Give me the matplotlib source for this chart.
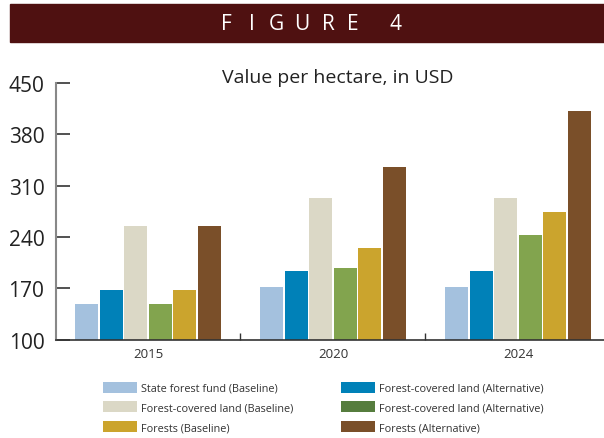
import numpy as np
import matplotlib.pyplot as plt
from matplotlib.patches import Rectangle, Patch

# ---- data ----
years = ['2015', '2020', '2024']
series_labels = [
    'State forest fund (Baseline)',
    'Forest-covered land (Alternative)',
    'Forest-covered land (Baseline)',
    'Forest-covered land (Alternative)',
    'Forests (Baseline)',
    'Forests (Alternative)',
]
state_fund_base = [148.5, 172, 172]
covered_alt_blue = [168, 194, 194]
covered_base = [255, 293.5, 293.5]
covered_alt_green = [148.5, 198, 243]
forests_base = [168, 225, 274]
forests_alt = [255, 335, 411.5]
series_values = [state_fund_base, covered_alt_blue, covered_base,
                 covered_alt_green, forests_base, forests_alt]

bar_colors = ['#a4c1de', '#0081b8', '#dbd8c6', '#82a44e', '#cba42d', '#7a4f29']
legend_colors = ['#a4c1de', '#0081b8', '#dbd8c6', '#567d3e', '#cba42d', '#7a4f29']
yticks = [100, 170, 240, 310, 380, 450]

plt.rcParams['font.family'] = ['Open Sans', 'DejaVu Sans']

fig = plt.figure(figsize=(6.04, 4.39), dpi=100)

# header banner, letters spread out one by one
fig.patches.append(Rectangle((10 / 604, 1 - 43 / 439), 594 / 604, 38 / 439,
                             transform=fig.transFigure, color='#4f1111', zorder=0))
banner_letters = ['F', 'I', 'G', 'U', 'R', 'E', '4']
banner_x = [226, 252, 276, 302, 328, 353, 395]
for ch, bx in zip(banner_letters, banner_x):
    fig.text(bx / 604, 1 - 25 / 439, ch, color='white', fontsize=15,
             ha='center', va='center')

ax = fig.add_axes([55.5 / 604, 1 - 340.7 / 439, 548.5 / 604, 256.7 / 439])

x = np.arange(len(years))
pitch = 0.133
width = 0.124
for i, vals in enumerate(series_values):
    ax.bar(x + (i - 2.5) * pitch, np.array(vals) - 100, width, bottom=100,
           color=bar_colors[i], zorder=2)

ax.set_xlim(-0.5, 2.465)
ax.set_ylim(100, 450)
ax.set_yticks(yticks)
ax.tick_params(axis='y', direction='in', length=10, width=1.2, color='#333333',
               labelsize=15, labelcolor='#222222', pad=8)
ax.set_xticks(x)
ax.set_xticklabels(years)
ax.tick_params(axis='x', length=0, labelsize=9.5, labelcolor='#333333', pad=5)
ax.set_xticks([0.5, 1.5], minor=True)
ax.tick_params(axis='x', which='minor', direction='in', length=5, width=1, color='#333333')

for s in ['top', 'right']:
    ax.spines[s].set_visible(False)
ax.spines['left'].set_color('#888888')
ax.spines['left'].set_linewidth(1.5)
ax.spines['bottom'].set_color('#333333')
ax.spines['bottom'].set_linewidth(1.2)

fig.text(338 / 604, 1 - 78 / 439, 'Value per hectare, in USD', fontsize=14,
         color='#222222', ha='center', va='center')

# legend, filled column by column
order = [0, 2, 4, 1, 3, 5]
handles = [Patch(facecolor=legend_colors[i]) for i in order]
labels = [series_labels[i] for i in order]
fig.legend(handles, labels, ncol=2, loc='upper left',
           bbox_to_anchor=(93 / 604, 1 - 373 / 439), frameon=False,
           fontsize=7.8, handlelength=3.2, handleheight=1.2,
           handletextpad=0.3, columnspacing=4.4, labelspacing=0.68,
           labelcolor='#333333')

fig.savefig('out.png', dpi=100)
